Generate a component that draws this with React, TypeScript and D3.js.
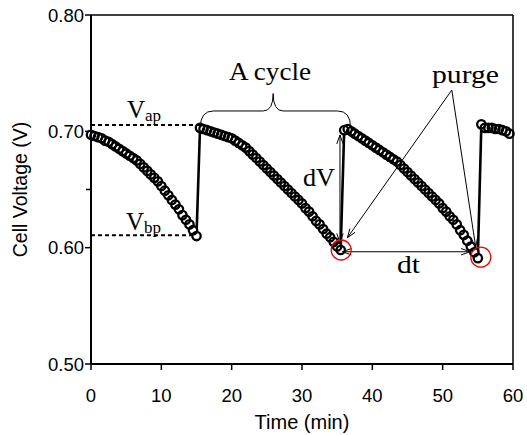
import React from 'react';
import * as d3 from 'd3';

const W = 527;
const H = 435;
const margin = { left: 91, right: 14, top: 15, bottom: 71 };

// cell voltage readings (V) vs time (min), one list per purge cycle
const cycle1Time = [0, 0.5, 1, 1.5, 2, 2.5, 3, 3.5, 4, 4.5, 5, 5.5, 6, 6.5, 7, 7.5, 8, 8.5, 9, 9.5, 10, 10.5, 11, 11.5, 12, 12.5, 13, 13.5, 14, 14.5, 15];
const cycle1Volt = [0.697, 0.696, 0.695, 0.694, 0.692, 0.691, 0.689, 0.687, 0.685, 0.683, 0.681, 0.679, 0.677, 0.675, 0.672, 0.669, 0.666, 0.663, 0.660, 0.657, 0.653, 0.649, 0.645, 0.641, 0.637, 0.633, 0.628, 0.624, 0.620, 0.615, 0.610];

const cycle2Time = [15.5, 16, 16.5, 17, 17.5, 18, 18.5, 19, 19.5, 20, 20.5, 21, 21.5, 22, 22.5, 23, 23.5, 24, 24.5, 25, 25.5, 26, 26.5, 27, 27.5, 28, 28.5, 29, 29.5, 30, 30.5, 31, 31.5, 32, 32.5, 33, 33.5, 34, 34.5, 35, 35.5];
const cycle2Volt = [0.703, 0.702, 0.701, 0.700, 0.699, 0.698, 0.697, 0.696, 0.695, 0.694, 0.692, 0.690, 0.688, 0.686, 0.683, 0.680, 0.677, 0.674, 0.671, 0.668, 0.665, 0.662, 0.659, 0.656, 0.653, 0.650, 0.647, 0.644, 0.641, 0.638, 0.634, 0.631, 0.627, 0.623, 0.620, 0.616, 0.612, 0.609, 0.605, 0.601, 0.598];

const cycle3Time = [36, 36.5, 37, 37.5, 38, 38.5, 39, 39.5, 40, 40.5, 41, 41.5, 42, 42.5, 43, 43.5, 44, 44.5, 45, 45.5, 46, 46.5, 47, 47.5, 48, 48.5, 49, 49.5, 50, 50.5, 51, 51.5, 52, 52.5, 53, 53.5, 54, 54.5, 55];
const cycle3Volt = [0.701, 0.702, 0.700, 0.698, 0.696, 0.694, 0.692, 0.690, 0.688, 0.686, 0.684, 0.682, 0.680, 0.678, 0.676, 0.674, 0.671, 0.668, 0.665, 0.662, 0.659, 0.656, 0.653, 0.650, 0.647, 0.644, 0.641, 0.638, 0.634, 0.631, 0.627, 0.624, 0.620, 0.615, 0.611, 0.606, 0.601, 0.596, 0.591];

const cycle4Time = [55.5, 56, 56.5, 57, 57.5, 58, 58.5, 59, 59.5];
const cycle4Volt = [0.706, 0.703, 0.703, 0.703, 0.702, 0.702, 0.701, 0.700, 0.698];

const xTicks = [0, 10, 20, 30, 40, 50, 60];
const yTicks = [0.5, 0.6, 0.7, 0.8];
const yMinorTicks = [0.65];

// purge points (circled in red)
const purgePoints = [
  { t: 35.5, v: 0.598 },
  { t: 55, v: 0.591 },
];

const vAp = 0.7055;
const vBp = 0.6106;

const sans = '"Liberation Sans", Arial, sans-serif';
const serif = '"Liberation Serif", "Times New Roman", serif';

function arrowHead(x1: number, y1: number, x2: number, y2: number, len = 9, half = 3.2) {
  // open V head at (x2,y2) pointing away from (x1,y1)
  const a = Math.atan2(y2 - y1, x2 - x1);
  const bx = x2 - len * Math.cos(a);
  const by = y2 - len * Math.sin(a);
  const px = -Math.sin(a) * half;
  const py = Math.cos(a) * half;
  return `M${bx + px},${by + py}L${x2},${y2}L${bx - px},${by - py}`;
}

export default function App() {
  const x = d3.scaleLinear().domain([0, 60]).range([margin.left, W - margin.right]);
  const y = d3.scaleLinear().domain([0.5, 0.8]).range([H - margin.bottom, margin.top]);

  const times = [...cycle1Time, ...cycle2Time, ...cycle3Time, ...cycle4Time];
  const volts = [...cycle1Volt, ...cycle2Volt, ...cycle3Volt, ...cycle4Volt];
  const pts = times.map((t, i) => ({ t, v: volts[i] }));

  const line = d3.line<{ t: number; v: number }>().x(d => x(d.t)).y(d => y(d.v));

  const x0 = x(0), x1 = x(60), yb = y(0.5), yt = y(0.8);

  // annotation geometry
  const dvX = x(35.4);
  const dvTop = y(0.6969);
  const dvBot = y(0.6045);
  const dtY = y(0.5965);
  const dtL = x(35.75);
  const dtR = x(53.9);
  const apex = { x: x(51.3), y: y(0.7355) };
  const p1 = { x: x(36.45), y: y(0.6085) };
  const p2 = { x: x(54.7), y: y(0.6005) };

  const bl = x(15.55), br = x(36.9), bm = x(25.9);
  const by0 = y(0.7035), bh = y(0.7175), bp = y(0.7325);
  const brace = `M${bl},${by0}Q${bl},${bh} ${bl + 13},${bh}L${bm - 10},${bh}Q${bm},${bh} ${bm},${bp}Q${bm},${bh} ${bm + 10},${bh}L${br - 13},${bh}Q${br},${bh} ${br},${by0}`;

  return (
    <svg width={W} height={H} style={{ position: 'absolute', left: 0, top: 0, background: '#fff' }}>
      {/* data line and markers: white discs first, then rings on top */}
      <path d={line(pts) || ''} fill="none" stroke="#000" strokeWidth={2.6} />
      {pts.map((d, i) => (
        <circle key={'f' + i} cx={x(d.t)} cy={y(d.v)} r={4.2} fill="#fff" />
      ))}
      {pts.map((d, i) => (
        <circle key={i} cx={x(d.t)} cy={y(d.v)} r={4.2} fill="none" stroke="#000" strokeWidth={2.3} />
      ))}

      {/* frame */}
      <line x1={x0} x2={x1} y1={yt} y2={yt} stroke="#000" strokeWidth={1.5} />
      <line x1={x1} x2={x1} y1={yt} y2={yb} stroke="#000" strokeWidth={1.5} />
      <line x1={x0} x2={x0} y1={yt} y2={yb + 1} stroke="#000" strokeWidth={2} />
      <line x1={x0 - 1} x2={x1} y1={yb} y2={yb} stroke="#000" strokeWidth={2} />

      {/* x axis */}
      {xTicks.map(t => (
        <g key={t}>
          <line x1={x(t)} x2={x(t)} y1={yb} y2={yb + 6} stroke="#000" strokeWidth={1.5} />
          <text x={x(t)} y={yb + 38} textAnchor="middle" fontFamily={sans} fontSize={18.5}>{t}</text>
        </g>
      ))}
      <text x={(x0 + x1) / 2} y={429} textAnchor="middle" fontFamily={sans} fontSize={20}>Time (min)</text>

      {/* y axis */}
      {yTicks.map(v => (
        <g key={v}>
          <line x1={x0 - 6} x2={x0} y1={y(v)} y2={y(v)} stroke="#000" strokeWidth={1.5} />
          <text x={x0 - 7} y={y(v) + 6.5} textAnchor="end" fontFamily={sans} fontSize={18.5}>{d3.format('.2f')(v)}</text>
        </g>
      ))}
      {yMinorTicks.map(v => (
        <line key={v} x1={x0 - 5} x2={x0} y1={y(v)} y2={y(v)} stroke="#000" strokeWidth={1.5} />
      ))}
      <text transform={`translate(27,${(yt + yb) / 2}) rotate(-90)`} textAnchor="middle" fontFamily={sans} fontSize={19.5}>Cell Voltage (V)</text>

      {/* Vap / Vbp levels */}
      <line x1={x0} x2={x(15.7)} y1={y(vAp)} y2={y(vAp)} stroke="#000" strokeWidth={2} strokeDasharray="4,3" />
      <line x1={x0} x2={x(14.5)} y1={y(vBp)} y2={y(vBp)} stroke="#000" strokeWidth={2} strokeDasharray="4,3" />
      <text x={127} y={118} fontFamily={serif} fontSize={25}>V<tspan fontSize={17} dy={3}>ap</tspan></text>
      <text x={126} y={230} fontFamily={serif} fontSize={25}>V<tspan fontSize={17} dy={3}>bp</tspan></text>

      {/* A cycle brace */}
      <path d={brace} fill="none" stroke="#000" strokeWidth={1} />
      <text x={229} y={80} fontFamily={serif} fontSize={25} textLength={82} lengthAdjust="spacingAndGlyphs">A cycle</text>

      {/* dV */}
      <line x1={dvX} x2={dvX} y1={dvTop} y2={dvBot} stroke="#000" strokeWidth={1} />
      <path d={arrowHead(dvX, dvBot, dvX, dvTop)} fill="none" stroke="#000" strokeWidth={1} />
      <path d={arrowHead(dvX, dvTop, dvX, dvBot)} fill="none" stroke="#000" strokeWidth={1} />
      <text x={303} y={186} fontFamily={serif} fontSize={25} textLength={32} lengthAdjust="spacingAndGlyphs">dV</text>

      {/* dt */}
      <line x1={dtL} x2={dtR} y1={dtY} y2={dtY} stroke="#000" strokeWidth={1.2} />
      <path d={arrowHead(dtR, dtY, dtL, dtY)} fill="none" stroke="#000" strokeWidth={1} />
      <path d={arrowHead(dtL, dtY, dtR, dtY)} fill="none" stroke="#000" strokeWidth={1} />
      <text x={397} y={273} fontFamily={serif} fontSize={25} textLength={23} lengthAdjust="spacingAndGlyphs">dt</text>

      {/* purge */}
      <text x={432} y={83} fontFamily={serif} fontSize={25} textLength={67} lengthAdjust="spacingAndGlyphs">purge</text>
      <line x1={apex.x} y1={apex.y} x2={p1.x} y2={p1.y} stroke="#000" strokeWidth={1} />
      <path d={arrowHead(apex.x, apex.y, p1.x, p1.y)} fill="none" stroke="#000" strokeWidth={1} />
      <line x1={apex.x} y1={apex.y} x2={p2.x} y2={p2.y} stroke="#000" strokeWidth={1} />
      <path d={arrowHead(apex.x, apex.y, p2.x, p2.y)} fill="none" stroke="#000" strokeWidth={1} />

      {purgePoints.map((d, i) => (
        <circle key={i} cx={x(d.t) + (i === 1 ? 3 : 0.5)} cy={y(d.v) - (i === 1 ? 1 : 0)} r={10} fill="none" stroke="#e00" strokeWidth={1.3} />
      ))}
    </svg>
  );
}
